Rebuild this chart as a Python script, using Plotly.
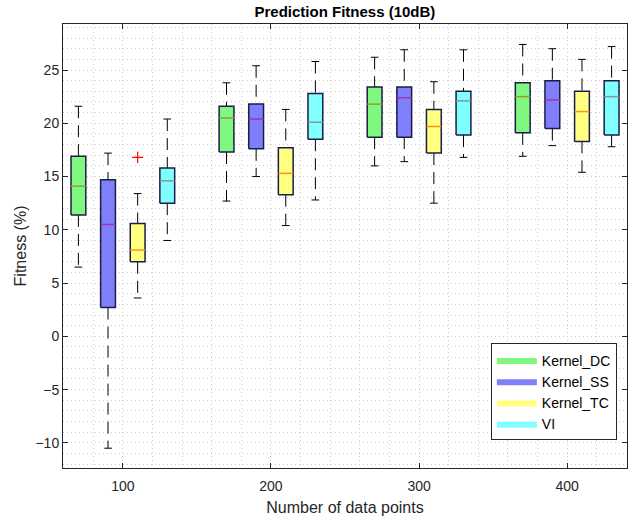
import plotly.graph_objects as go

# ---------------- data ----------------
groups = [100, 200, 300, 400]
series = ["Kernel_DC", "Kernel_SS", "Kernel_TC", "VI"]

dc_lo  = [6.5, 12.7, 16.0, 16.9]
dc_q1  = [11.4, 17.3, 18.7, 19.1]
dc_med = [14.1, 20.5, 21.8, 22.5]
dc_q3  = [16.9, 21.6, 23.4, 23.8]
dc_hi  = [21.6, 23.8, 26.2, 27.4]

ss_lo  = [-10.5, 15.0, 16.4, 17.9]
ss_q1  = [2.7, 17.6, 18.7, 19.5]
ss_med = [10.5, 20.4, 22.4, 22.2]
ss_q3  = [14.7, 21.8, 23.4, 24.0]
ss_hi  = [17.2, 25.4, 26.9, 27.0]

tc_lo  = [3.6, 10.4, 12.5, 15.4]
tc_q1  = [7.0, 13.3, 17.2, 18.3]
tc_med = [8.1, 15.3, 19.7, 21.1]
tc_q3  = [10.6, 17.7, 21.3, 23.0]
tc_hi  = [13.4, 21.3, 23.9, 26.0]
tc_outlier_group = [100]
tc_outlier_value = [16.8]

vi_lo  = [9.0, 12.8, 16.8, 17.8]
vi_q1  = [12.5, 18.5, 18.9, 18.9]
vi_med = [14.6, 20.1, 22.1, 22.5]
vi_q3  = [15.8, 22.8, 23.0, 24.0]
vi_hi  = [20.4, 25.8, 26.9, 27.2]

y_ticks = [-10, -5, 0, 5, 10, 15, 20, 25]
x_ticks = [100, 200, 300, 400]

# ---------------- styling ----------------
stats = [
    (dc_lo, dc_q1, dc_med, dc_q3, dc_hi),
    (ss_lo, ss_q1, ss_med, ss_q3, ss_hi),
    (tc_lo, tc_q1, tc_med, tc_q3, tc_hi),
    (vi_lo, vi_q1, vi_med, vi_q3, vi_hi),
]
fills = ["#80F880", "#7F7FFB", "#FFFF80", "#80FFFF"]
median_cols = ["#93a02c", "#9a3aa8", "#ff9410", "#7f9898"]
offsets = [-30, -10, 10, 30]
half_w = 5.0
cap_w = 2.6

fig = go.Figure()

# whiskers (dashed) and caps
wx, wy, cx, cy = [], [], [], []
for s, (lo, q1, med, q3, hi) in enumerate(stats):
    for g, gx in enumerate(groups):
        x = gx + offsets[s]
        wx += [x, x, None, x, x, None]
        wy += [hi[g], q3[g], None, q1[g], lo[g], None]
        cx += [x - cap_w, x + cap_w, None, x - cap_w, x + cap_w, None]
        cy += [hi[g], hi[g], None, lo[g], lo[g], None]

fig.add_trace(go.Scatter(x=wx, y=wy, mode="lines", showlegend=False, hoverinfo="skip",
                         line=dict(color="black", width=1, dash="12px,7px")))
fig.add_trace(go.Scatter(x=cx, y=cy, mode="lines", showlegend=False, hoverinfo="skip",
                         line=dict(color="black", width=1)))

# boxes
for s, (lo, q1, med, q3, hi) in enumerate(stats):
    bx, by, mx, my = [], [], [], []
    for g, gx in enumerate(groups):
        x = gx + offsets[s]
        bx += [x - half_w, x + half_w, x + half_w, x - half_w, x - half_w, None]
        by += [q1[g], q1[g], q3[g], q3[g], q1[g], None]
        mx += [x - half_w, x + half_w, None]
        my += [med[g], med[g], None]
    fig.add_trace(go.Scatter(x=bx, y=by, mode="lines", fill="toself", fillcolor=fills[s],
                             name=series[s], showlegend=False, legendgroup=series[s],
                             line=dict(color="#1c1c48", width=1.5)))
    fig.add_trace(go.Scatter(x=mx, y=my, mode="lines", showlegend=False, hoverinfo="skip",
                             legendgroup=series[s],
                             line=dict(color=median_cols[s], width=1.5)))
    # legend entry (filled swatch)
    fig.add_trace(go.Scatter(x=[None], y=[None], mode="lines", fill="toself",
                             fillcolor=fills[s], name=series[s], legendgroup=series[s],
                             line=dict(color=fills[s], width=0)))

# outlier
fig.add_trace(go.Scatter(x=[g + offsets[2] for g in tc_outlier_group], y=tc_outlier_value,
                         mode="markers", showlegend=False,
                         marker=dict(symbol="cross-thin", size=8,
                                     line=dict(color="red", width=1.2))))

font_family = "Liberation Sans, Arial, Helvetica, sans-serif"
grid_col = "#cdcdcd"
grid_dash = "1px,3px"

fig.update_layout(
    width=634, height=516,
    margin=dict(l=62.5, r=6.5, t=24, b=47.5, autoexpand=False),
    paper_bgcolor="white", plot_bgcolor="white",
    font=dict(family=font_family, size=14, color="#262626"),
    title=dict(text="<b>Prediction Fitness (10dB)</b>", x=0.544, xanchor="center",
               y=1 - 12 / 516, yanchor="middle", yref="container",
               font=dict(size=15, color="black")),
    showlegend=True,
    legend=dict(x=0.982, y=0.062, xanchor="right", yanchor="bottom",
                bgcolor="white", bordercolor="#262626", borderwidth=1,
                font=dict(size=14, color="black"), tracegroupgap=0,
                itemwidth=40),
)

fig.update_xaxes(
    range=[59.6, 440.4], tickvals=x_ticks, ticktext=[str(v) for v in x_ticks],
    showline=True, linecolor="#262626", linewidth=1, mirror="ticks",
    ticks="inside", ticklen=5, tickcolor="#262626", ticklabelstandoff=5,
    showgrid=True, gridcolor=grid_col, griddash=grid_dash, gridwidth=1,
    minor=dict(dtick=20, tick0=0, showgrid=True, gridcolor=grid_col, griddash=grid_dash, ticks=""),
    zeroline=False,
    title=dict(text="Number of data points", font=dict(size=16), standoff=10),
    tickfont=dict(size=14),
)
fig.update_yaxes(
    range=[-12.36, 29.32], tickvals=y_ticks,
    showline=True, linecolor="#262626", linewidth=1, mirror="ticks",
    ticks="inside", ticklen=5, tickcolor="#262626",
    showgrid=True, gridcolor=grid_col, griddash=grid_dash, gridwidth=1,
    minor=dict(dtick=1, tick0=0, showgrid=True, gridcolor=grid_col, griddash=grid_dash, ticks=""),
    zeroline=False,
    title=dict(text="Fitness (%)", font=dict(size=16), standoff=4),
    tickfont=dict(size=14),
)

fig.write_html("out.html", config={"displayModeBar": False},
               post_script="document.body.style.margin='0';document.body.style.overflow='hidden';")
